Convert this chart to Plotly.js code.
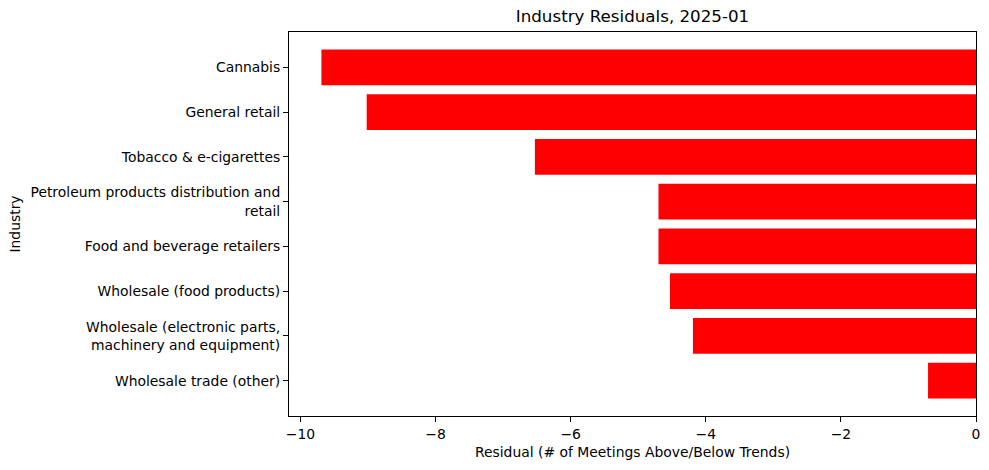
<!DOCTYPE html>
<html>
<head>
<meta charset="utf-8">
<script src="https://cdn.plot.ly/plotly-3.0.1.min.js"></script>
<style>html,body{margin:0;padding:0;background:#fff;}#chart{width:989px;height:470px;}</style>
</head>
<body>
<div id="chart"></div>
<script>
const industries = [
  "Cannabis",
  "General retail",
  "Tobacco & e-cigarettes",
  "Petroleum products distribution and<br>retail",
  "Food and beverage retailers",
  "Wholesale (food products)",
  "Wholesale (electronic parts,<br>machinery and equipment)",
  "Wholesale trade (other)"
];
const residuals = [-9.69, -9.02, -6.53, -4.70, -4.70, -4.53, -4.19, -0.71];
const xTicks = [-10, -8, -6, -4, -2, 0];
const xTickLabels = ["\u221210", "\u22128", "\u22126", "\u22124", "\u22122", "0"];

const font = "DejaVu Sans, sans-serif";
const trace = {
  type: "bar",
  orientation: "h",
  x: residuals,
  y: industries,
  marker: {color: "#ff0000", line: {width: 0}},
  hoverinfo: "x+y"
};
const layout = {
  width: 989, height: 470,
  margin: {l: 289, r: 13, t: 32, b: 54},
  paper_bgcolor: "#fff", plot_bgcolor: "#fff",
  font: {family: font, size: 13.9, color: "#000"},
  title: {text: "Industry Residuals, 2025-01", font: {family: font, size: 16.7, color: "#000"},
          x: 0.5, xref: "paper", y: 1, yref: "container", yanchor: "top", pad: {t: 10}},
  bargap: 0.2,
  showlegend: false,
  xaxis: {
    range: [-10.17, 0], autorange: false,
    tickvals: xTicks, ticktext: xTickLabels,
    ticks: "outside", ticklen: 5, tickwidth: 1, tickcolor: "#000",
    showline: true, linecolor: "#000", linewidth: 1, mirror: true,
    showgrid: false, zeroline: false,
    title: {text: "Residual (# of Meetings Above/Below Trends)", font: {family: font, size: 13.9}, standoff: 6},
    automargin: false
  },
  yaxis: {
    type: "category",
    categoryorder: "array", categoryarray: industries,
    range: [7.79, -0.79], autorange: false,
    ticks: "outside", ticklen: 5, tickwidth: 1, tickcolor: "#000",
    showline: true, linecolor: "#000", linewidth: 1, mirror: true,
    showgrid: false, zeroline: false,
    title: {text: "Industry", font: {family: font, size: 13.9}, standoff: 6},
    automargin: false
  }
};
Plotly.newPlot("chart", [trace], layout, {displayModeBar: false, staticPlot: true});
</script>
</body>
</html>
